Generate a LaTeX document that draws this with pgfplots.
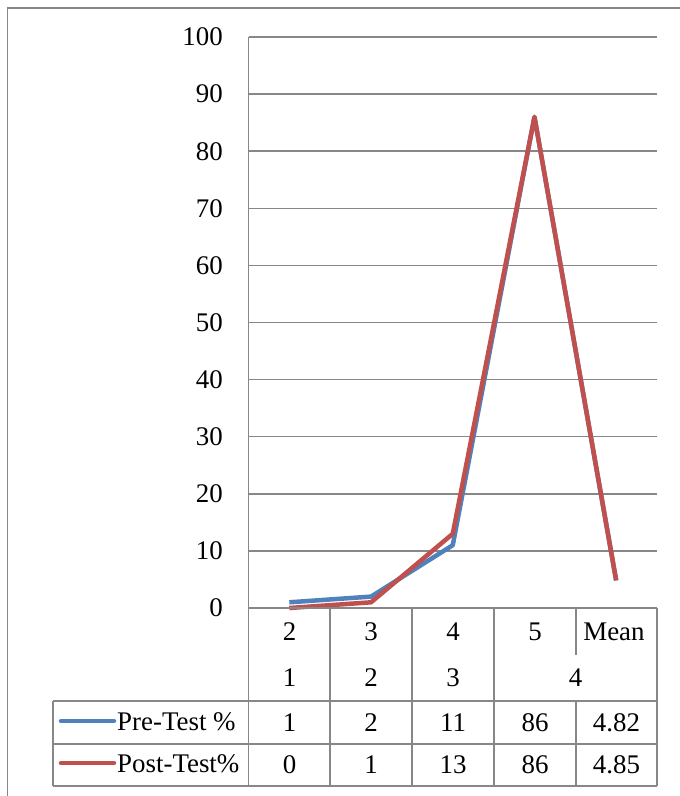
\documentclass[border=0pt]{standalone}
\usepackage{pgfplots}
\pgfplotsset{compat=1.18}
\usepackage{fontspec}
\setmainfont{Liberation Serif}

\definecolor{preblue}{HTML}{4F81BD}
\definecolor{postred}{HTML}{C0504D}
\definecolor{rulegrey}{HTML}{878787}

% score categories (0..3 for ratings 2..5, 4 for the mean)
\pgfplotstableread{
x pre post
0 1 0
1 2 1
2 11 13
3 86 86
4 4.82 4.85
}\scores

\begin{document}
\fontsize{27}{32}\selectfont
\begin{tikzpicture}[x=1bp,y=1bp]
\useasboundingbox (0,0) rectangle (680,-796);
% outer frame
\draw[rulegrey, line width=1.5bp] (7.5,-796) -- (7.5,-8) -- (680,-8);

\begin{axis}[
  at={(248.5bp,-608bp)}, anchor=south west,
  scale only axis, width=408.5bp, height=571bp,
  xmin=-0.5, xmax=4.5, ymin=0, ymax=100,
  xtick=\empty, ytick={0,10,...,100},
  ymajorgrids, grid style={rulegrey, line width=1.5bp},
  axis line style={draw=none},
  major tick length=0pt,
  /pgf/number format/assume math mode=true,
  yticklabel style={anchor=east, inner sep=0pt, xshift=-25.5bp,
    font=\fontsize{27}{32}\selectfont},
  clip=false,
]
\addplot[preblue, line width=4.5bp, line join=round] table[x=x, y=pre]{\scores};
\addplot[postred, line width=4.5bp, line join=round] table[x=x, y=post]{\scores};
\end{axis}

% data table under the plot
\begin{scope}[rulegrey, line width=1.5bp]
\draw (248.5,-37) -- (248.5,-786);
\draw (248.5,-608) -- (657,-608);
\draw (53,-701) -- (657,-701);
\draw (53,-744) -- (657,-744);
\draw (53,-786) -- (657,-786);
\draw (53,-701) -- (53,-786);
\foreach \xx in {330,412,494,657} \draw (\xx,-608) -- (\xx,-786);
\draw (576,-608) -- (576,-655);
\draw (576,-701) -- (576,-786);
\end{scope}

% header rows
\foreach \xx/\t in {289.5/2, 371/3, 453/4, 535/5, 614/Mean}
  \node at (\xx,-632) {\t};
\foreach \xx/\t in {289.5/1, 371/2, 453/3, 575.5/4}
  \node at (\xx,-678) {\t};

% series rows
\draw[preblue, line width=4.5bp, line cap=round] (61,-721) -- (114,-721);
\node[anchor=west, inner sep=0pt] at (117,-722) {Pre-Test \%};
\foreach \xx/\t in {289.5/1, 371/2, 453/11, 535/86, 616.5/4.82}
  \node at (\xx,-722.5) {\t};

\draw[postred, line width=4.5bp, line cap=round] (61,-763) -- (114,-763);
\node[anchor=west, inner sep=0pt] at (117,-764) {Post-Test\%};
\foreach \xx/\t in {289.5/0, 371/1, 453/13, 535/86, 616.5/4.85}
  \node at (\xx,-765) {\t};
\end{tikzpicture}
\end{document}
